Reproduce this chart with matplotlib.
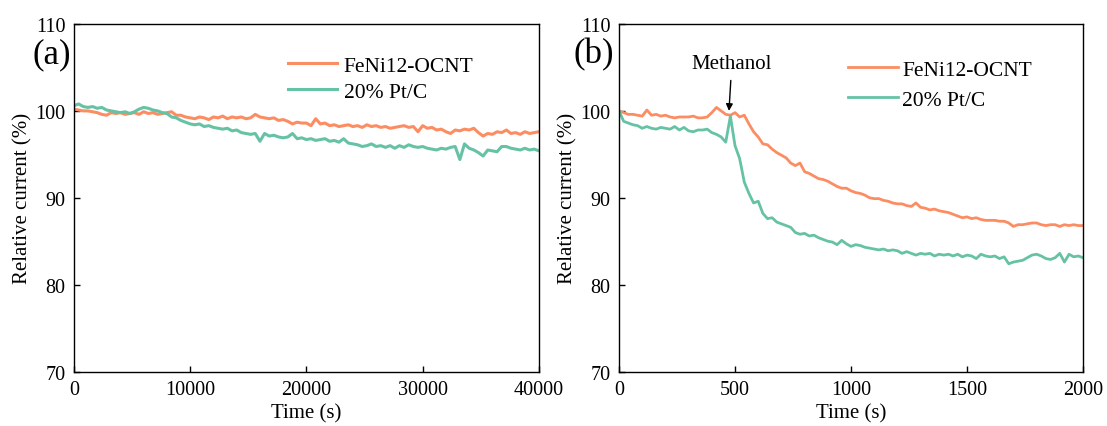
import numpy as np
import matplotlib
matplotlib.use("Agg")
import matplotlib.pyplot as plt

plt.rcParams['font.family'] = ['Liberation Serif', 'DejaVu Serif']
plt.rcParams['font.size'] = 15

ORANGE = "#fc8d62"
GREEN = "#66c2a5"
LABELS = ["FeNi12-OCNT", "20% Pt/C"]

# (a) long-term stability, sampled every 400 s
time_a = np.arange(0, 40001, 400)
feni_a = [
    100.2, 100.1, 100.0, 100.0, 99.9, 99.8, 99.6, 99.5, 99.8, 99.7,
    99.8, 99.6, 99.7, 99.8, 99.6, 99.9, 99.7, 99.8, 99.6, 99.7,
    99.8, 99.9, 99.5, 99.5, 99.3, 99.2, 99.1, 99.3, 99.2, 99.0,
    99.3, 99.2, 99.4, 99.1, 99.3, 99.2, 99.3, 99.1, 99.2, 99.6,
    99.3, 99.2, 99.1, 99.2, 98.9, 99.0, 98.8, 98.5, 98.7, 98.6,
    98.6, 98.3, 99.1, 98.5, 98.6, 98.3, 98.4, 98.2, 98.3, 98.4,
    98.2, 98.3, 98.1, 98.4, 98.2, 98.3, 98.1, 98.2, 98.0, 98.1,
    98.2, 98.3, 98.1, 98.2, 97.6, 98.3, 98.0, 98.1, 97.8, 97.9,
    97.6, 97.4, 97.8, 97.7, 97.9, 97.8, 98.0, 97.5, 97.1, 97.4,
    97.3, 97.6, 97.5, 97.8, 97.4, 97.5, 97.3, 97.6, 97.4, 97.5,
    97.6,
]
ptc_a = [
    100.6, 100.8, 100.5, 100.4, 100.5, 100.3, 100.4, 100.1, 100.0, 99.9,
    99.8, 99.9, 99.7, 99.9, 100.2, 100.4, 100.3, 100.1, 100.0, 99.8,
    99.7, 99.3, 99.2, 98.9, 98.7, 98.5, 98.4, 98.5, 98.2, 98.3,
    98.1, 98.0, 97.9, 98.0, 97.7, 97.8, 97.5, 97.4, 97.3, 97.4,
    96.5, 97.4, 97.1, 97.2, 97.0, 96.9, 97.0, 97.4, 96.8, 96.9,
    96.7, 96.8, 96.6, 96.7, 96.8, 96.5, 96.6, 96.4, 96.8, 96.3,
    96.2, 96.1, 95.9, 96.0, 96.2, 95.9, 96.0, 95.8, 96.0, 95.7,
    96.0, 95.8, 96.1, 95.9, 95.8, 95.9, 95.7, 95.6, 95.5, 95.7,
    95.6, 95.8, 95.9, 94.4, 96.2, 95.7, 95.5, 95.2, 94.8, 95.5,
    95.4, 95.3, 95.9, 95.9, 95.7, 95.6, 95.5, 95.7, 95.5, 95.6,
    95.4,
]

# (b) methanol tolerance, sampled every 20 s
time_b = np.arange(0, 2001, 20)
feni_b = [
    100.0, 99.8, 99.6, 99.6, 99.5, 99.4, 100.1, 99.5, 99.6, 99.4,
    99.5, 99.3, 99.2, 99.3, 99.3, 99.3, 99.4, 99.2, 99.2, 99.3,
    99.8, 100.4, 100.0, 99.6, 99.5, 99.8, 99.3, 99.5, 98.5, 97.6,
    97.0, 96.2, 96.1, 95.6, 95.2, 94.9, 94.6, 94.0, 93.7, 94.0,
    93.0, 92.8, 92.5, 92.2, 92.1, 91.9, 91.6, 91.3, 91.1, 91.1,
    90.8, 90.6, 90.5, 90.3, 90.0, 89.9, 89.9, 89.7, 89.6, 89.4,
    89.3, 89.3, 89.1, 89.0, 89.4, 88.9, 88.8, 88.6, 88.7, 88.5,
    88.4, 88.3, 88.1, 87.9, 87.7, 87.8, 87.6, 87.7, 87.5, 87.4,
    87.4, 87.4, 87.3, 87.3, 87.1, 86.7, 86.9, 86.9, 87.0, 87.1,
    87.1, 86.9, 86.8, 86.9, 86.9, 86.7, 86.9, 86.8, 86.9, 86.8,
    86.8,
]
ptc_b = [
    100.0, 98.8, 98.6, 98.4, 98.3, 98.0, 98.2, 98.0, 97.9, 98.1,
    98.0, 97.9, 98.2, 97.8, 98.1, 97.7, 97.6, 97.8, 97.8, 97.9,
    97.5, 97.3, 97.0, 96.4, 99.4, 96.0, 94.5, 91.8, 90.5, 89.4,
    89.6, 88.2, 87.6, 87.7, 87.2, 87.0, 86.8, 86.6, 86.0, 85.8,
    85.9, 85.6, 85.7, 85.4, 85.2, 85.0, 84.9, 84.6, 85.1, 84.7,
    84.4, 84.6, 84.5, 84.3, 84.2, 84.1, 84.0, 84.1, 83.9, 84.0,
    83.9, 83.6, 83.8, 83.6, 83.4, 83.6, 83.5, 83.6, 83.3, 83.5,
    83.4, 83.5, 83.3, 83.5, 83.2, 83.4, 83.3, 83.0, 83.5, 83.3,
    83.2, 83.3, 83.0, 83.2, 82.4, 82.6, 82.7, 82.8, 83.1, 83.4,
    83.5, 83.3, 83.0, 82.9, 83.1, 83.6, 82.6, 83.5, 83.2, 83.3,
    83.1,
]

fig = plt.figure(figsize=(11.07, 4.27), dpi=100)
ax_a = fig.add_axes([0.0668, 0.1276, 0.420, 0.8138])
ax_b = fig.add_axes([0.5592, 0.1276, 0.4191, 0.8138])


def style(ax, xmax, xticks):
    ax.set_xlim(0, xmax)
    ax.set_ylim(70, 110)
    ax.set_xticks(xticks)
    ax.set_yticks([70, 80, 90, 100, 110])
    ax.tick_params(direction='in', length=4, width=1, labelsize=14.5, pad=6)
    for sp in ax.spines.values():
        sp.set_linewidth(1)
    ax.set_xlabel("Time (s)", fontsize=15, labelpad=3)
    ax.set_ylabel("Relative current (%)", fontsize=15, labelpad=2)


ax_a.plot(time_a, feni_a, color=ORANGE, lw=2.2, label=LABELS[0])
ax_a.plot(time_a, ptc_a, color=GREEN, lw=2.2, label=LABELS[1])
style(ax_a, 40000, [0, 10000, 20000, 30000, 40000])
ax_a.legend(loc='center left', bbox_to_anchor=(0.46, 0.843), frameon=False,
            fontsize=15.5, handlelength=2.3, handletextpad=0.3,
            labelspacing=0.28, borderpad=0, borderaxespad=0)

ax_b.plot(time_b, feni_b, color=ORANGE, lw=2, label=LABELS[0])
ax_b.plot(time_b, ptc_b, color=GREEN, lw=2, label=LABELS[1])
style(ax_b, 2000, [0, 500, 1000, 1500, 2000])
ax_b.legend(loc='center left', bbox_to_anchor=(0.494, 0.825), frameon=False,
            fontsize=15.5, handlelength=2.3, handletextpad=0.2,
            labelspacing=0.45, borderpad=0, borderaxespad=0)
ax_b.annotate("Methanol", xy=(474, 100.0), xytext=(486, 105.4),
              ha='center', va='center', fontsize=15,
              arrowprops=dict(arrowstyle='-|>', color='black', lw=1,
                              mutation_scale=10, shrinkA=3, shrinkB=0))

fig.text(52 / 1107, 1 - 55 / 427, "(a)", fontsize=25, ha='center', va='center')
fig.text(594 / 1107, 1 - 55 / 427, "(b)", fontsize=25, ha='center', va='center')

fig.savefig("out.png", dpi=100)
